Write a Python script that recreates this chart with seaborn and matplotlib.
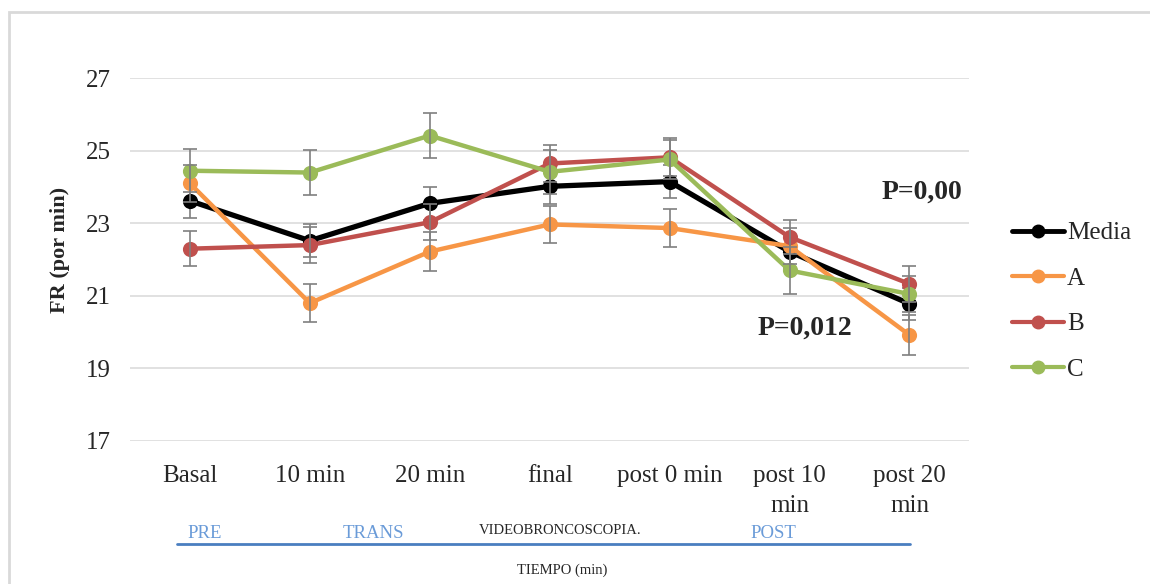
import matplotlib
matplotlib.use("Agg")
import matplotlib.pyplot as plt
import matplotlib.patches as mpatches
import matplotlib.lines as mlines
import pandas as pd
import seaborn as sns

# datos
tiempos = ["Basal", "10 min", "20 min", "final", "post 0 min", "post 10\nmin", "post 20\nmin"]
series = ["Media", "A", "B", "C"]
media = [23.62, 22.52, 23.55, 24.02, 24.15, 22.22, 20.78]
grupo_a = [24.10, 20.80, 22.22, 22.97, 22.87, 22.37, 19.92]
grupo_b = [22.30, 22.40, 23.03, 24.65, 24.82, 22.62, 21.33]
grupo_c = [24.45, 24.40, 25.42, 24.42, 24.76, 21.70, 21.05]
err_media = [0.47, 0.45, 0.45, 0.48, 0.45, 0.45, 0.45]
err_a = [0.50, 0.52, 0.54, 0.50, 0.52, 0.50, 0.55]
err_b = [0.48, 0.50, 0.50, 0.50, 0.52, 0.47, 0.50]
err_c = [0.60, 0.63, 0.62, 0.60, 0.55, 0.65, 0.50]
colores = ["#000000", "#F79646", "#C0504D", "#9BBB59"]
y_ticks = [17, 19, 21, 23, 25, 27]

valores = [media, grupo_a, grupo_b, grupo_c]
errores = [err_media, err_a, err_b, err_c]

df = pd.DataFrame({
    "Tiempo": tiempos * len(series),
    "FR": sum(valores, []),
    "Serie": [s for s in series for _ in tiempos],
})

sns.set_style("white")
plt.rcParams["font.family"] = ["Liberation Serif", "DejaVu Serif"]

fig = plt.figure(figsize=(11.5, 5.84), dpi=100)
ax = fig.add_axes([0.113, 0.245, 0.730, 0.621])

for i, s in enumerate(series):
    ax.errorbar(range(len(tiempos)), valores[i], yerr=errores[i], fmt="none",
                ecolor="#7f7f7f", elinewidth=1.2, capsize=5, capthick=1.2, zorder=2 + i)

sns.pointplot(data=df, x="Tiempo", y="FR", hue="Serie", order=tiempos, hue_order=series,
              palette=colores, errorbar=None, markers="o", markersize=8.5,
              linewidth=3.2, ax=ax, legend=False)
# linea de la media algo mas gruesa
for ln in ax.lines:
    if ln.get_color() in ("#000000", (0.0, 0.0, 0.0, 1.0), (0.0, 0.0, 0.0)):
        ln.set_linewidth(3.8)

ax.set_ylim(17, 27)
ax.set_xlim(-0.5, len(tiempos) - 0.5)
ax.set_yticks(y_ticks)
ax.yaxis.grid(True, color="#d9d9d9", linewidth=1.1)
ax.set_axisbelow(True)
for sp in ax.spines.values():
    sp.set_visible(False)
ax.tick_params(axis="both", length=0, labelsize=18, pad=14)
ax.tick_params(axis="x", pad=17)
for lbl in ax.get_xticklabels():
    lbl.set_linespacing(1.5)
ax.set_xlabel("")
ax.set_ylabel("FR (por min)", fontsize=16, fontweight="bold")
ax.yaxis.set_label_coords(-0.071, 0.527)

ax.text(6.1, 23.85, "P=0,00", fontsize=20, fontweight="bold", ha="center", va="center")
ax.text(5.13, 20.1, "P=0,012", fontsize=20, fontweight="bold", ha="center", va="center")

handles = [mlines.Line2D([], [], color=c, lw=3.5 if s == "Media" else 3, marker="o", markersize=9)
           for s, c in zip(series, colores)]
fig.legend(handles, series, loc="center left", bbox_to_anchor=(0.869, 0.484), frameon=False,
           fontsize=18, handlelength=2.1, handletextpad=0.1, labelspacing=0.92, borderpad=0)

# anotaciones de fases bajo el eje
azul = "#6A9BD8"
fig.text(205 / 1150, 1 - 534 / 584, "PRE", color=azul, fontsize=13.5, ha="center", va="center")
fig.text(373 / 1150, 1 - 534 / 584, "TRANS", color=azul, fontsize=13.5, ha="center", va="center")
fig.text(773 / 1150, 1 - 534 / 584, "POST", color=azul, fontsize=13.5, ha="center", va="center")
fig.text(560 / 1150, 1 - 531 / 584, "VIDEOBRONCOSCOPIA.", fontsize=10.5, ha="center", va="center")
fig.text(562 / 1150, 1 - 570 / 584, "TIEMPO (min)", fontsize=10.5, ha="center", va="center")
fig.add_artist(mlines.Line2D([177 / 1150, 910 / 1150], [1 - 544 / 584] * 2, color="#4A7EC0",
                             lw=2, transform=fig.transFigure))
fig.add_artist(mpatches.Rectangle((9 / 1150, -0.1), 1.2, 1.1 - 12 / 584,
                                  fill=False, edgecolor="#d9d9d9", lw=2, transform=fig.transFigure))

fig.savefig("out.png", dpi=100)
